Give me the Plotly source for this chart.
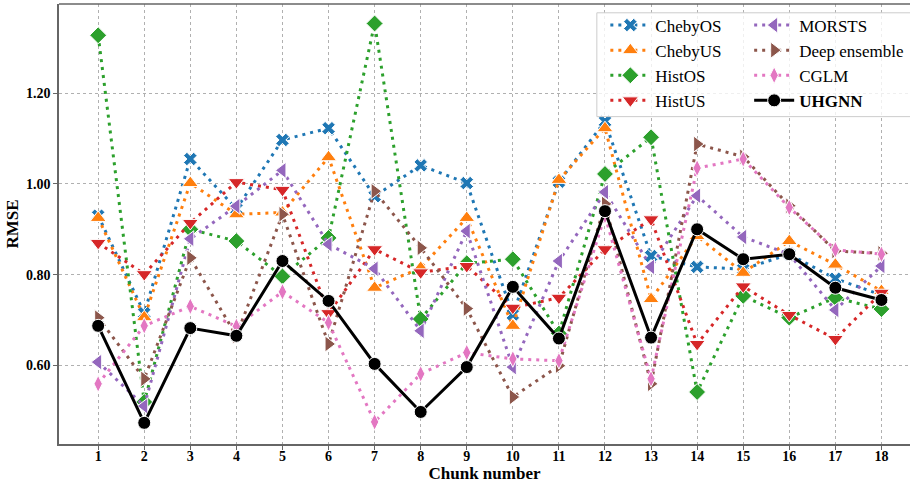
import plotly.graph_objects as go

chunks = list(range(1, 19))

cheby_os = [0.930, 0.715, 1.055, 0.945, 1.097, 1.123, 0.973, 1.041, 1.002, 0.712, 1.005, 1.138, 0.841, 0.817, 0.812, 0.845, 0.791, 0.755]
cheby_us = [0.925, 0.706, 1.002, 0.933, 0.937, 1.059, 0.771, 0.815, 0.925, 0.687, 1.009, 1.123, 0.746, 0.885, 0.804, 0.874, 0.822, 0.764]
hist_os = [1.328, 0.519, 0.900, 0.874, 0.796, 0.881, 1.354, 0.702, 0.825, 0.834, 0.670, 1.022, 1.103, 0.541, 0.753, 0.705, 0.749, 0.724]
hist_us = [0.870, 0.801, 0.914, 1.004, 0.987, 0.715, 0.856, 0.805, 0.819, 0.727, 0.749, 0.856, 0.922, 0.647, 0.774, 0.711, 0.658, 0.760]
morsts = [0.607, 0.510, 0.879, 0.951, 1.030, 0.867, 0.813, 0.676, 0.896, 0.596, 0.830, 0.982, 0.817, 0.974, 0.883, 0.845, 0.722, 0.819]
deep_ens = [0.705, 0.570, 0.837, 0.665, 0.933, 0.647, 0.984, 0.859, 0.725, 0.530, 0.599, 0.956, 0.559, 1.088, 1.060, 0.952, 0.852, 0.847]
cglm = [0.559, 0.687, 0.730, 0.686, 0.762, 0.694, 0.475, 0.581, 0.628, 0.614, 0.610, 0.930, 0.570, 1.035, 1.055, 0.948, 0.855, 0.845]
uhgnn = [0.687, 0.473, 0.682, 0.665, 0.830, 0.742, 0.603, 0.497, 0.596, 0.773, 0.659, 0.940, 0.661, 0.900, 0.834, 0.845, 0.771, 0.744]

y_ticks = [0.6, 0.8, 1.0, 1.2]

series = [
    ("ChebyOS", cheby_os, "#1f77b4", "x", 12),
    ("ChebyUS", cheby_us, "#ff7f0e", "triangle-up", 14),
    ("HistOS", hist_os, "#2ca02c", "diamond", 13),
    ("HistUS", hist_us, "#d62728", "triangle-down", 14),
    ("MORSTS", morsts, "#9467bd", "triangle-left", 14),
    ("Deep ensemble", deep_ens, "#8c564b", "triangle-right", 14),
    ("CGLM", cglm, "#e377c2", "diamond-tall", 12),
]

SERIF = "Liberation Serif"
fig = go.Figure()
for i, (name, vals, color, sym, size) in enumerate(series):
    fig.add_trace(go.Scatter(
        x=chunks, y=vals, mode="lines+markers", name=name,
        line=dict(color=color, width=3, dash="3px,5px"),
        marker=dict(symbol=sym, size=size, color=color, line=dict(color="white", width=1)),
        legend="legend" if i < 4 else "legend2",
    ))

fig.add_trace(go.Scatter(
    x=chunks, y=uhgnn, mode="lines+markers", name="<b>UHGNN</b>",
    line=dict(color="black", width=3),
    marker=dict(symbol="circle", size=13, color="black", line=dict(color="white", width=1)),
    legend="legend2",
))

axis_common = dict(
    showgrid=True, gridcolor="#b0b0b0", griddash="dot", gridwidth=0.8,
    showline=True, linecolor="#666666", linewidth=1.5,
    ticks="outside", ticklen=4, tickcolor="#666666",
    tickfont=dict(family=SERIF, size=14, color="black", weight="bold"),
    zeroline=False,
)

fig.update_layout(
    width=910, height=483,
    margin=dict(l=59, r=0, t=4, b=39),
    plot_bgcolor="white", paper_bgcolor="white",
    xaxis=dict(range=[0.15, 18.62], tickvals=chunks, ticklabelstandoff=-6,
               title=dict(text="Chunk number", font=dict(family=SERIF, size=17, color="black", weight="bold"), standoff=2),
               **axis_common),
    yaxis=dict(range=[0.4263, 1.397], tickvals=y_ticks, tickformat=".2f",
               title=dict(text="RMSE", font=dict(family=SERIF, size=17, color="black", weight="bold"), standoff=3),
               **axis_common),
    legend=dict(x=0.642, y=0.992, xanchor="left", yanchor="top", bgcolor="rgba(0,0,0,0)",
                borderwidth=0, itemwidth=40, font=dict(family=SERIF, size=17, color="black")),
    legend2=dict(x=0.811, y=0.992, xanchor="left", yanchor="top", bgcolor="rgba(0,0,0,0)",
                 borderwidth=0, itemwidth=40, font=dict(family=SERIF, size=17, color="black")),
    shapes=[
        dict(type="line", xref="paper", yref="paper", x0=0, x1=1, y0=1, y1=1,
             line=dict(color="#666666", width=1.5)),
        dict(type="rect", xref="paper", yref="paper", x0=0.632, x1=1.02, y0=0.744, y1=0.98,
             fillcolor="rgba(255,255,255,0.8)", line=dict(color="#cccccc", width=1), layer="above"),
    ],
    showlegend=True,
)

fig.write_html("out.html")
